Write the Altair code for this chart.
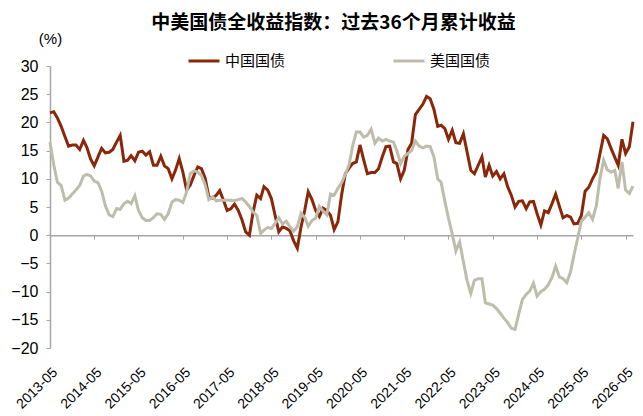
import altair as alt
import pandas as pd

# ---- data (monthly, 2013-05 onward) ----
start_month = "2013/05/01"
n_months = 159
china = [21.7, 21.9, 20.8, 19.3, 17.5, 15.8, 16.0, 16.0, 15.2, 16.8, 15.6, 13.5, 12.3, 13.9, 15.4, 14.6,
         14.7, 15.2, 16.5, 17.7, 13.1, 13.3, 14.1, 13.2, 14.7, 14.9, 14.2, 14.8, 12.4, 12.4, 14.0, 12.3,
         11.8,
         10.0, 11.5, 13.6, 11.2, 8.0, 8.9, 10.6, 12.1, 11.8, 10.1, 6.8, 6.6, 7.1, 7.9, 6.2, 4.4,
         4.7, 5.5, 4.4, 2.7, 0.6, 0.0, 4.1, 7.1, 6.5, 8.6, 8.0, 6.5, 3.5, 0.6, 1.5, 1.2,
         0.8, -1.0, -2.3, 1.5, 4.5, 7.7, 6.3, 4.4, 3.3, 4.8, 4.4, 3.5, 1.0, 2.4, 7.1, 10.9,
         11.9, 12.7, 13.0, 16.0, 13.3, 10.9, 11.1, 11.1, 11.8, 13.9, 15.7, 15.8, 13.0, 12.7, 10.0, 11.5,
         15.2,
         16.3, 21.4, 22.3, 23.2, 24.6, 24.2, 22.3, 19.3, 19.5, 18.9, 17.0, 18.6, 16.4, 16.3, 18.0, 14.8,
         11.5, 10.9, 12.4, 13.9, 10.3, 12.4, 10.5, 11.3, 10.0, 10.9, 8.6, 7.1, 5.0, 6.0,
         6.1, 4.7, 5.9, 6.0, 3.8, 1.8, 4.3, 4.0, 5.6, 7.3, 5.1, 3.1, 3.5, 3.2, 2.0, 2.1,
         3.5, 7.8, 8.5, 10.0, 11.2, 14.4, 17.7, 17.1, 15.4, 13.8, 12.4, 17.0, 14.5, 15.7, 20.1]
us = [16.5, 12.5, 9.4, 8.8, 6.2, 6.6, 7.3, 8.0, 8.8, 10.5, 10.8, 10.5, 9.6, 9.3, 7.8, 5.2,
      3.6, 3.3, 4.7, 4.6, 5.6, 6.0, 5.6, 7.0, 4.4, 3.1, 2.6, 2.6, 3.1, 3.8, 3.7, 2.8,
      3.8,
      5.9, 6.3, 6.2, 5.8, 7.7, 10.9, 11.4, 11.2, 10.6, 8.9, 6.3, 6.8, 6.1, 6.2, 6.2, 6.2,
      6.2, 6.1, 6.3, 6.5, 5.9, 5.1, 4.1, 3.5, 0.3, 0.9, 1.4, 1.2, 2.1, 3.1, 2.0, 2.5,
      1.5, 0.7, 1.5, 3.9, 3.1, 1.6, 2.6, 3.0, 5.1, 4.3, 3.6, 7.3, 7.1, 8.3, 9.3, 10.8,
      12.5, 15.8, 18.3, 18.3, 17.4, 17.7, 18.8, 16.3, 17.2, 16.7, 17.0, 16.7, 16.5, 15.0, 12.7, 14.0,
      14.5,
      15.0, 16.7, 15.8, 15.5, 15.8, 15.7, 13.9, 10.0, 9.4, 6.0, 3.0, 0.2, -2.8, -1.2, -4.7, -8.0,
      -10.3, -8.0, -7.7, -7.7, -12.0, -12.2, -12.4, -13.0, -13.8, -14.7, -15.5, -16.5, -16.7, -14.0,
      -11.4, -10.5, -9.9, -8.5, -10.8, -10.0, -9.6, -8.8, -7.5, -5.5, -7.4, -7.7, -8.4, -6.5, -3.5, -0.5,
      2.5, 3.2, 4.0, 2.8, 5.2, 10.0, 13.3, 11.6, 11.2, 11.5, 8.3, 13.0, 8.0, 7.4, 8.7]
series_names = ["中国国债", "美国国债"]
tick_labels = [f"{y}-05" for y in range(2013, 2027)]
y_ticks = list(range(-20, 31, 5))

dates = [d.strftime("%Y/%m/%d") for d in pd.date_range(start_month.replace("/", "-"), periods=n_months, freq="MS")]
df_cn = pd.DataFrame({"date": dates, "value": china, "series": series_names[0]})
df_us = pd.DataFrame({"date": dates, "value": us, "series": series_names[1]})

W, H = 583, 282
zero_frac = 30 / 50
ax_off = H * (1 - zero_frac)

RED = "#8B2709"
GRAY = "#BEBDAB"
NUM_FONT = "Liberation Sans"
CJK_FONT = "Noto Sans CJK SC"

def dt(s):
    y, m, d = s.split("/") if "/" in s else (s.split("-") + ["1"])
    return alt.DateTime(year=int(y), month=int(m), date=int(d))

x_enc = alt.X(
    "date:T",
    scale=alt.Scale(domain=[dt(dates[0]), dt(dates[-1])], nice=False),
    axis=alt.Axis(
        values=[dt(t) for t in tick_labels],
        format="%Y-%m",
        labelAngle=-45,
        labelAlign="right",
        labelBaseline="top",
        offset=-ax_off,
        labelPadding=ax_off + 13,
        tickSize=4,
        tickColor="#A6A6A6",
        domainColor="#A6A6A6",
        domainWidth=1.5,
        labelFont=NUM_FONT,
        labelFontSize=14,
        labelColor="#000000",
        grid=False,
        title=None,
        labelOverlap=False,
        labelFlush=False,
    ),
)
y_enc = alt.Y(
    "value:Q",
    scale=alt.Scale(domain=[-20, 30], nice=False, zero=False),
    axis=alt.Axis(
        values=y_ticks,
        grid=False,
        tickSize=4,
        tickColor="#A6A6A6",
        domainColor="#A6A6A6",
        domainWidth=1.5,
        labelPadding=8,
        labelFont=NUM_FONT,
        labelFontSize=16,
        labelColor="#000000",
        title="(%)",
        titleAngle=0,
        titleX=0,
        titleY=-28,
        titleAlign="center",
        titleBaseline="middle",
        titleFont=NUM_FONT,
        titleFontSize=15,
        titleFontWeight="normal",
        titleColor="#000000",
    ),
)
color_enc = alt.Color(
    "series:N",
    scale=alt.Scale(domain=series_names, range=[RED, GRAY]),
    legend=alt.Legend(
        orient="none",
        direction="horizontal",
        legendX=137,
        legendY=-22,
        title=None,
        symbolType="stroke",
        symbolSize=961,
        symbolStrokeWidth=3,
        labelFont=CJK_FONT,
        labelFontSize=15,
        labelColor="#000000",
        labelOffset=4,
        columnPadding=101,
    ),
)

cn_line = alt.Chart(df_cn).mark_line(strokeWidth=3).encode(x=x_enc, y=y_enc, color=color_enc)
us_line = alt.Chart(df_us).mark_line(strokeWidth=3).encode(x=x_enc, y=y_enc, color=color_enc)

chart = alt.layer(cn_line, us_line).properties(
    width=W,
    height=H,
    padding={"left": 42, "top": 58, "right": 2, "bottom": 68},
    autosize=alt.AutoSizeParams(type="none"),
    title=alt.TitleParams(
        "中美国债全收益指数：过去36个月累计收益",
        font=CJK_FONT,
        fontSize=19,
        fontWeight="bold",
        color="#000000",
        anchor="middle",
        frame="group",
        offset=-2,
        dx=-8,
    ),
).configure_view(stroke=None)

chart.save("out.html", embed_options={"renderer": "svg", "actions": False})
